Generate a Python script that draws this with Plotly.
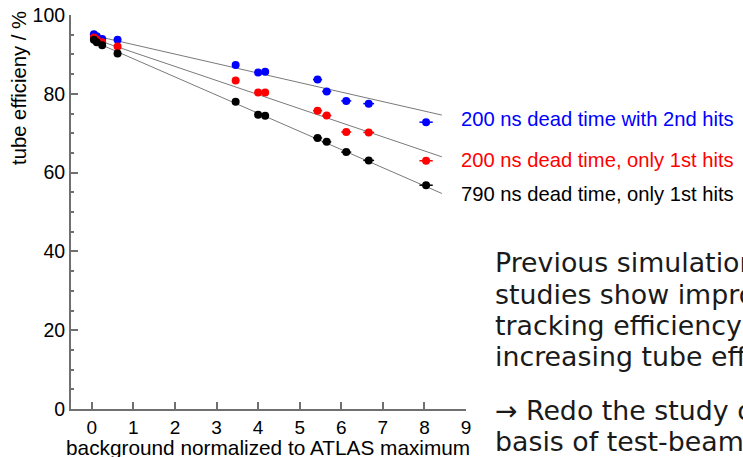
import plotly.graph_objects as go

# ---------------- data ----------------
background = [0.05, 0.12, 0.25, 0.62, 3.46, 4.00, 4.17, 5.43, 5.65, 6.12, 6.66, 8.04]
bg_err = [0.00, 0.00, 0.01, 0.02, 0.07, 0.08, 0.08, 0.11, 0.11, 0.12, 0.13, 0.16]

eff_200ns_2nd = [95.1, 94.6, 93.9, 93.7, 87.3, 85.4, 85.6, 83.6, 80.6, 78.2, 77.5, 72.8]
eff_200ns_1st = [94.3, 93.8, 93.1, 92.0, 83.4, 80.3, 80.3, 75.7, 74.5, 70.3, 70.2, 63.0]
eff_790ns_1st = [93.7, 93.1, 92.3, 90.2, 78.0, 74.7, 74.4, 68.8, 67.8, 65.2, 63.1, 56.8]

fit_x = [0.0, 8.42]
fit_200ns_2nd = [94.9, 74.6]
fit_200ns_1st = [94.1, 64.0]
fit_790ns_1st = [93.5, 54.7]

series_labels = ["200 ns dead time with 2nd hits",
                 "200 ns dead time, only 1st hits",
                 "790 ns dead time, only 1st hits"]
series_colors = ["#0000ff", "#ff0000", "#000000"]

x_ticks = [0, 1, 2, 3, 4, 5, 6, 7, 8, 9]
x_title = "background normalized to ATLAS maximum"
y_title = "tube efficieny / %"

side_text = ["Previous simulation",
             "studies show improved",
             "tracking efficiency with",
             "increasing tube efficiency.",
             "\u2192 Redo the study on the",
             "basis of test-beam data."]

# ---------------- figure ----------------
AX = "#707070"
FONT = "Liberation Sans, Arial, Helvetica, sans-serif"

fig = go.Figure()

for fy in [fit_200ns_2nd, fit_200ns_1st, fit_790ns_1st]:
    fig.add_trace(go.Scatter(x=fit_x, y=fy, mode="lines",
                             line=dict(color="#7a7a7a", width=1),
                             hoverinfo="skip"))

for ys, col, name in zip([eff_200ns_2nd, eff_200ns_1st, eff_790ns_1st],
                         series_colors, series_labels):
    fig.add_trace(go.Scatter(
        x=background, y=ys, mode="markers", name=name,
        marker=dict(color=col, size=8, line=dict(width=0)),
        error_x=dict(type="data", array=bg_err, visible=True,
                     color=col, thickness=1.5, width=0)))

L, R, T, B = 71, 277, 15, 48
W, H = 743, 457
pw, ph = W - L - R, H - T - B


def px_x(px):
    return (px - L) / pw


def px_y(py):
    return (H - B - py) / ph


annotations = []
# axis titles
annotations.append(dict(text=y_title, xref="paper", yref="paper",
                        x=px_x(19), y=px_y(88), textangle=-90,
                        xanchor="center", yanchor="middle", showarrow=False,
                        font=dict(family=FONT, size=20.3, color="black")))
annotations.append(dict(text=x_title, xref="paper", yref="paper",
                        x=px_x(268), y=px_y(447),
                        xanchor="center", yanchor="middle", showarrow=False,
                        font=dict(family=FONT, size=20.8, color="black")))
# series labels
for lab, col, cy in zip(series_labels, series_colors, [119, 160, 194]):
    annotations.append(dict(text=lab, xref="paper", yref="paper",
                            x=px_x(459), y=px_y(cy),
                            xanchor="left", yanchor="middle", showarrow=False,
                            font=dict(family=FONT, size=20.2, color=col)))
# side paragraph (cut at the right edge as in the original slide)
for line, cy in zip(side_text, [262, 294, 325, 356, 410, 441]):
    annotations.append(dict(text=line, xref="paper", yref="paper",
                            x=px_x(493), y=px_y(cy),
                            xanchor="left", yanchor="middle", showarrow=False,
                            font=dict(family="DejaVu Sans, sans-serif",
                                      size=26.8, color="#1a1a1a")))

fig.update_layout(
    width=W, height=H,
    margin=dict(l=L, r=R, t=T, b=B, autoexpand=False),
    paper_bgcolor="white", plot_bgcolor="white",
    showlegend=False,
    xaxis=dict(range=[-0.5, 9], tickvals=x_ticks, ticks="inside",
               ticklen=7, tickwidth=1.5, tickcolor=AX,
               showline=True, linecolor=AX, linewidth=2,
               showgrid=False, zeroline=False,
               tickfont=dict(family=FONT, size=19, color="black")),
    yaxis=dict(range=[0, 100], tick0=0, dtick=20, ticks="inside",
               ticklen=7, tickwidth=1.5, tickcolor=AX,
               minor=dict(dtick=5, ticks="inside", ticklen=3,
                          tickwidth=1.5, tickcolor=AX, showgrid=False),
               showline=True, linecolor=AX, linewidth=2,
               showgrid=False, zeroline=False,
               tickfont=dict(family=FONT, size=19.5, color="black")),
    annotations=annotations,
)

fig.write_html("out.html")
